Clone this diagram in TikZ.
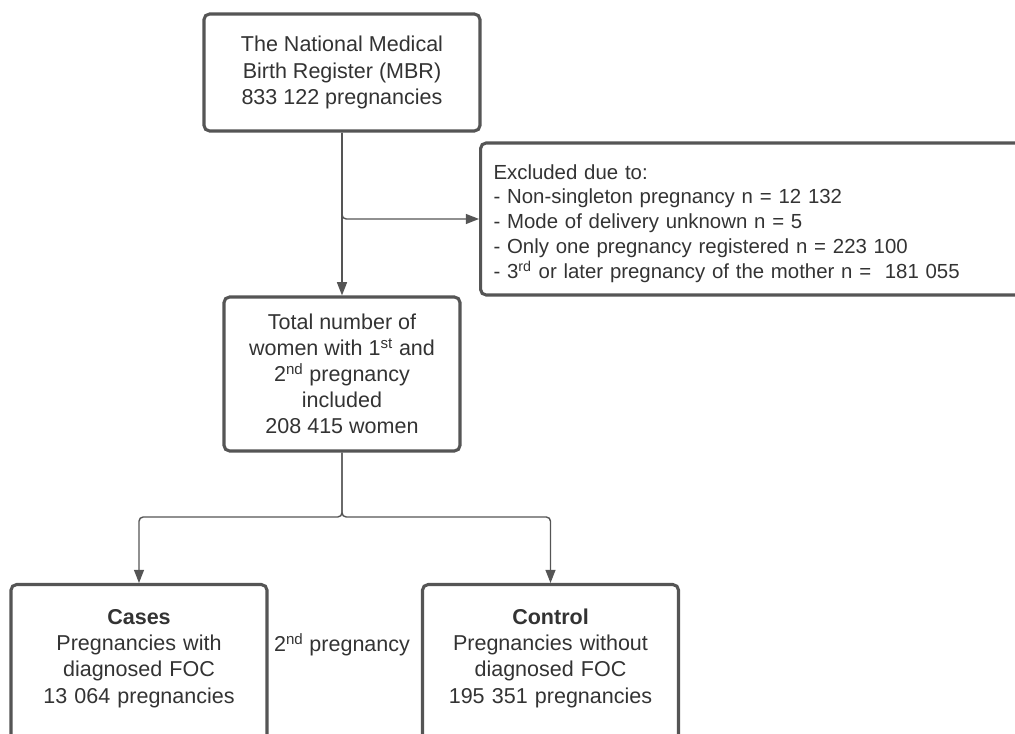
\documentclass[tikz,border=0pt]{standalone}
\usepackage{fontspec}
\setmainfont{Liberation Sans}
\usepackage{xcolor}
\usetikzlibrary{arrows.meta}

\definecolor{linegray}{HTML}{555555}
\definecolor{textgray}{HTML}{333333}

\tikzset{
  box/.style={draw=linegray, line width=2.2pt, rounded corners=4pt, fill=white,
    text=textgray, align=center, font=\fontsize{15.3}{18.6}\selectfont},
  exclbox/.style={box, align=left, inner xsep=0.325cm, text width=13.35cm,
    text height=0.6cm, minimum height=3.8cm, anchor=west,
    font=\fontsize{14.5}{17.7}\selectfont},
  armbox/.style={box, anchor=north, inner xsep=0.125cm, inner ysep=0.125cm,
    text width=6.15cm, text height=0.875cm, text depth=2.925cm},
  arr/.style={draw=linegray, line width=1pt, rounded corners=3pt,
    -{Triangle[length=0.33cm, width=0.25cm]}}
}

\begin{document}
\begin{tikzpicture}[x=0.025cm, y=-0.025cm]
\useasboundingbox (0,0) rectangle (1015,734);
\clip (0,0) rectangle (1015,734);

% Register and exclusions
\node[box, minimum width=6.9cm, minimum height=2.925cm] (mbr) at (342,72.5)
  {The National Medical\\Birth Register (MBR)\\833 122 pregnancies};
\node[exclbox] (excl) at (479,219)
  {Excluded due to:\\
   - Non-singleton pregnancy n = 12 132\\
   - Mode of delivery unknown n = 5\\
   - Only one pregnancy registered n = 223 100\\
   - 3\textsuperscript{rd} or later pregnancy of the mother n = \ 181 055};

% Included women
\node[box, minimum width=5.9cm, minimum height=3.85cm] (total) at (342,374)
  {Total number of\\women with 1\textsuperscript{st} and\\2\textsuperscript{nd} pregnancy\\included\\208 415 women};

% Cases and controls
\node[armbox] (cases) at (139,583)
  {\textbf{Cases}\\Pregnancies with\\diagnosed FOC\\13 064 pregnancies};
\node[armbox] (control) at (550.5,583)
  {\textbf{Control}\\Pregnancies without\\diagnosed FOC\\195 351 pregnancies};
\node[text=textgray, font=\fontsize{15.3}{18.6}\selectfont] (second) at (342,645)
  {2\textsuperscript{nd} pregnancy};

\coordinate (split) at (342,517);

\draw[arr] (mbr.south) -- (total.north);
\draw[arr] (mbr.south) |- (excl.west);
\draw[arr] (total.south) -- (split) -| (cases.north);
\draw[arr] (total.south) -- (split) -| (control.north);
\end{tikzpicture}
\end{document}
